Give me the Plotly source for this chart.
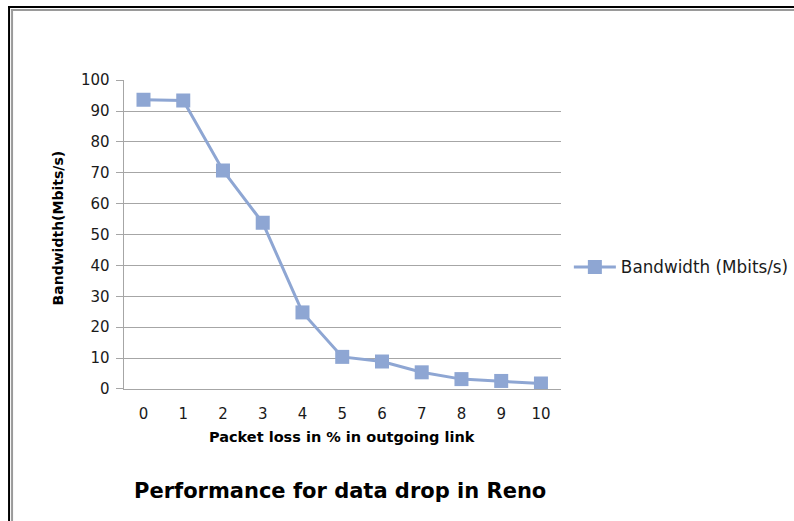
import plotly.graph_objects as go

packet_loss = [0, 1, 2, 3, 4, 5, 6, 7, 8, 9, 10]
bandwidth = [93.7, 93.4, 70.8, 53.8, 24.8, 10.4, 8.9, 5.4, 3.2, 2.6, 1.8]
y_ticks = [0, 10, 20, 30, 40, 50, 60, 70, 80, 90, 100]

W, H = 794, 521
# empirical mapping from target pixel to paper coordinates (plot frame ~790x505 at (2,8))
px = lambda x: (x - 2) / 790
py = lambda y: 1 - (y - 8) / 505

FONT = "'DejaVu Sans', Verdana, sans-serif"
COLOR = "#8EA6D3"
GRID = "#A6A6A6"
TXT = "#1a1a1a"

fig = go.Figure()
fig.add_trace(go.Scatter(
    x=packet_loss, y=bandwidth, mode="lines+markers",
    name="Bandwidth (Mbits/s)",
    line=dict(color=COLOR, width=3),
    marker=dict(symbol="square", size=14, color=COLOR),
))

fig.update_layout(
    width=W, height=H,
    margin=dict(l=0, r=0, t=0, b=0),
    paper_bgcolor="white", plot_bgcolor="white",
    font=dict(family=FONT, size=15, color=TXT),
    xaxis=dict(
        domain=[px(125), px(560)],
        range=[-0.5, 10.5],
        tickvals=packet_loss,
        ticktext=[str(v) for v in packet_loss],
        showgrid=False, zeroline=False,
        showline=True, linecolor=GRID, linewidth=1,
        ticks="", ticklabelstandoff=11,
        tickfont=dict(family=FONT, size=15, color=TXT),
    ),
    yaxis=dict(
        domain=[py(389.5), py(79.5)],
        range=[0, 100],
        tickvals=y_ticks,
        showgrid=True, gridcolor=GRID, gridwidth=1,
        zeroline=False,
        showline=True, linecolor=GRID, linewidth=1,
        ticks="outside", ticklen=7, tickcolor=GRID,
        ticklabelstandoff=3,
        tickfont=dict(family=FONT, size=15, color=TXT),
    ),
    showlegend=True,
    legend=dict(
        x=px(568), y=py(267), xanchor="left", yanchor="middle",
        font=dict(family=FONT, size=16.8, color=TXT),
        bgcolor="rgba(0,0,0,0)", itemwidth=42,
    ),
    annotations=[
        dict(text="<b>Bandwidth(Mbits/s)</b>", textangle=-90,
             x=px(60), y=py(228), xref="paper", yref="paper",
             xanchor="center", yanchor="middle",
             showarrow=False, font=dict(family=FONT, size=14, color="#000000")),
        dict(text="<b>Packet loss in % in outgoing link</b>",
             x=px(342), y=py(438), xref="paper", yref="paper",
             xanchor="center", yanchor="middle",
             showarrow=False, font=dict(family=FONT, size=14.5, color="#000000")),
        dict(text="<b>Performance for data drop in Reno</b>",
             x=px(340), y=py(492), xref="paper", yref="paper",
             xanchor="center", yanchor="middle",
             showarrow=False, font=dict(family=FONT, size=21, color="#000000")),
    ],
    shapes=[
        dict(type="line", xref="paper", yref="paper", x0=px(11), x1=px(11), y0=py(5), y1=py(525),
             line=dict(color="#000000", width=2)),
        dict(type="line", xref="paper", yref="paper", x0=px(10), x1=px(800), y0=py(6), y1=py(6),
             line=dict(color="#000000", width=2)),
        dict(type="line", xref="paper", yref="paper", x0=px(14), x1=px(14), y0=py(8), y1=py(525),
             line=dict(color="#9A9A9A", width=2)),
        dict(type="line", xref="paper", yref="paper", x0=px(13), x1=px(800), y0=py(9), y1=py(9),
             line=dict(color="#9A9A9A", width=2)),
    ],
)

fig.write_html("out.html")
